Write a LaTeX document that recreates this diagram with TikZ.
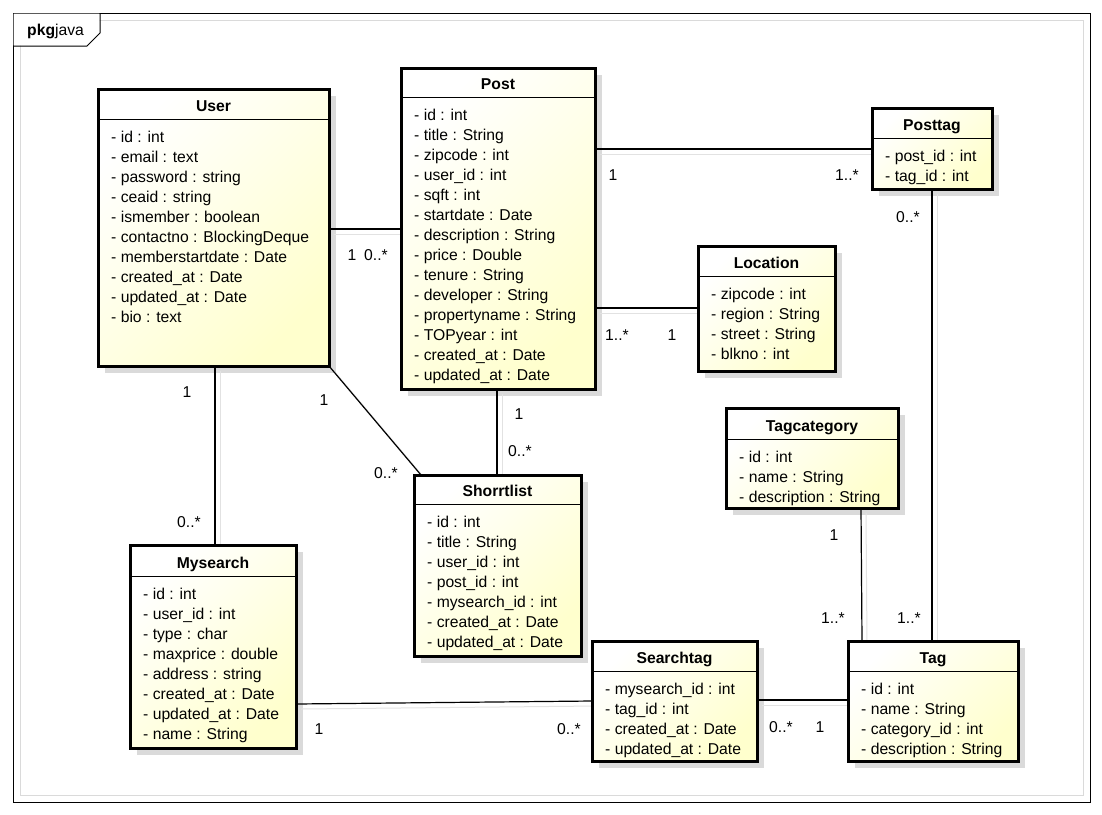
\documentclass[tikz,border=0pt]{standalone}
\usepackage{fontspec}
\setmainfont{Liberation Sans}
\usetikzlibrary{fit,calc}
\pgfdeclarelayer{bg}
\pgfsetlayers{bg,main}
\definecolor{cyel}{RGB}{255,255,205}
\definecolor{shad}{RGB}{218,218,218}
\definecolor{lshad}{RGB}{226,226,226}
\tikzset{
  classbox/.style={draw=black, line width=3pt, inner sep=0pt, outer sep=0pt,
    left color=white, right color=cyel, shading angle=45},
  hdr/.style={line width=1pt},
  ttl/.style={font=\fontsize{15.7}{20}\selectfont\bfseries, inner sep=0pt, anchor=base},
  attr/.style={font=\fontsize{15.7}{20}\selectfont, inner sep=0pt, anchor=base west},
  mult/.style={font=\fontsize{15.7}{20}\selectfont, inner sep=0pt},
  conn/.style={line width=1.2pt, black},
  connsh/.style={line width=1pt, lshad},
}
% #1 name, #2 x1, #3 y1, #4 x2, #5 y2, #6 header y, #7 title, #8 attributes
\newcommand\umlclass[8]{%
  \begin{pgfonlayer}{bg}
    \fill[shad] ({#2+7},{#3+7}) rectangle ({#4+7},{#5+7});
  \end{pgfonlayer}
  \node[classbox, fit={(#2,#3) (#4,#5)}] (#1) {};
  \draw[hdr] (#2,#6) -- (#4,#6);
  \node[ttl] (#1-t) at ({(#2+#4)/2},{#6-8}) {#7};
  \foreach \t [count=\i from 0] in {#8} {
    \node[attr] (#1-a\i) at ({#2+13},{#6+23.5+20*\i}) {\t};
  }
}
\newcommand\assoc[1]{%
  \draw[connsh, transform canvas={shift={(5,5)}}] #1;
  \draw[conn] #1;
}
\begin{document}
\begin{tikzpicture}[x=1pt,y=-1pt]
\useasboundingbox (0,0) rectangle (1102,814);
% frame
\begin{pgfonlayer}{bg}
  \fill[white] (0,0) rectangle (1102,814);
  \draw[shad, line width=1pt] (20,20) rectangle (1083,795);
  \draw[black, line width=1pt] (13,13) rectangle (1090,802);
  \fill[white] (13.5,13.5) -- (99.5,13.5) -- (99.5,33) -- (87,45.5) -- (13.5,45.5) -- cycle;
  \draw[black, line width=1pt] (13,46) -- (87,46) -- (100,33) -- (100,13);
\end{pgfonlayer}
\node[mult, anchor=west] (pkg) at (27,31) {\textbf{pkg}java};

\umlclass{user}{98}{89}{329}{366}{119}{User}{%
  - id : int, - email : text, - password : string, - ceaid : string,
  - ismember : boolean, - contactno : BlockingDeque, - memberstartdate : Date,
  - created\_at : Date, - updated\_at : Date, - bio : text}
\umlclass{post}{401}{68}{595}{389}{97}{Post}{%
  - id : int, - title : String, - zipcode : int, - user\_id : int, - sqft : int,
  - startdate : Date, - description : String, - price : Double, - tenure : String,
  - developer : String, - propertyname : String, - TOPyear : int,
  - created\_at : Date, - updated\_at : Date}
\umlclass{posttag}{872}{108}{992}{189}{138}{Posttag}{%
  - post\_id : int, - tag\_id : int}
\umlclass{location}{698}{246}{835}{371}{276}{Location}{%
  - zipcode : int, - region : String, - street : String, - blkno : int}
\umlclass{tagcat}{726}{408}{898}{508}{439}{Tagcategory}{%
  - id : int, - name : String, - description : String}
\umlclass{shorrt}{414}{475}{581}{656}{504}{Shorrtlist}{%
  - id : int, - title : String, - user\_id : int, - post\_id : int,
  - mysearch\_id : int, - created\_at : Date, - updated\_at : Date}
\umlclass{mysearch}{130}{545}{296}{748}{576}{Mysearch}{%
  - id : int, - user\_id : int, - type : char, - maxprice : double,
  - address : string, - created\_at : Date, - updated\_at : Date, - name : String}
\umlclass{searchtag}{592}{641}{757}{761}{671}{Searchtag}{%
  - mysearch\_id : int, - tag\_id : int, - created\_at : Date, - updated\_at : Date}
\umlclass{tag}{848}{641}{1018}{761}{671}{Tag}{%
  - id : int, - name : String, - category\_id : int, - description : String}

% connectors
\begin{pgfonlayer}{bg}
  \assoc{(user.east |- 0,229) -- (post.west |- 0,229)}
  \assoc{(post.east |- 0,149) -- (posttag.west |- 0,149)}
  \assoc{(post.east |- 0,308) -- (location.west |- 0,308)}
  \assoc{(posttag.south -| 932,0) -- (tag.north -| 932,0)}
  \assoc{(tagcat.south -| 861,0) -- (tag.north -| 862,0)}
  \assoc{(post.south -| 497,0) -- (shorrt.north -| 497,0)}
  \assoc{(user.south east) -- (shorrt.north -| 421,0)}
  \assoc{(user.south -| 215,0) -- (mysearch.north -| 215,0)}
  \assoc{(mysearch.east |- 0,704) -- (searchtag.west |- 0,701)}
  \assoc{(searchtag.east |- 0,700) -- (tag.west |- 0,700)}
\end{pgfonlayer}

% multiplicities
\node[mult] (m1a) at (352,255) {1};
\node[mult] (m1b) at (376,255) {0..*};
\node[mult] (m2a) at (613,175) {1};
\node[mult] (m2b) at (847,175) {1..*};
\node[mult] (m3a) at (617,335) {1..*};
\node[mult] (m3b) at (672,335) {1};
\node[mult] (m4a) at (908,217) {0..*};
\node[mult] (m4b) at (909,618) {1..*};
\node[mult] (m5a) at (834,535) {1};
\node[mult] (m5b) at (833,618) {1..*};
\node[mult] (m6a) at (519,414) {1};
\node[mult] (m6b) at (520,451) {0..*};
\node[mult] (m7a) at (324,400) {1};
\node[mult] (m7b) at (386,473) {0..*};
\node[mult] (m8a) at (187,392) {1};
\node[mult] (m8b) at (189,522) {0..*};
\node[mult] (m9a) at (319,729) {1};
\node[mult] (m9b) at (569,729) {0..*};
\node[mult] (m10a) at (781,727) {0..*};
\node[mult] (m10b) at (820,727) {1};
\end{tikzpicture}
\end{document}
